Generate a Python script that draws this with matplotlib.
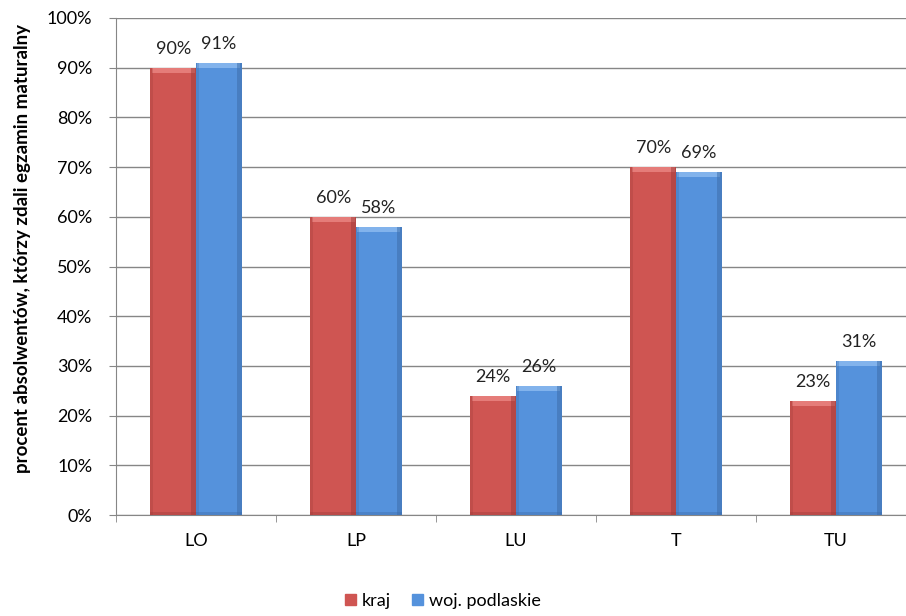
import matplotlib
matplotlib.use("Agg")
import matplotlib.pyplot as plt
import matplotlib.ticker as mticker
import numpy as np

plt.rcParams["font.family"] = ["Lato", "DejaVu Sans"]

categories = ["LO", "LP", "LU", "T", "TU"]
kraj = [90, 60, 24, 70, 23]
podlaskie = [91, 58, 26, 69, 31]
series_names = ["kraj", "woj. podlaskie"]

RED = "#CF5552"
BLUE = "#5592DC"
RED_LIGHT = "#E57C79"
BLUE_LIGHT = "#82B3EC"
RED_DARK = "#9E3B39"
BLUE_DARK = "#3C6CA8"

fig = plt.figure(figsize=(9.06, 6.16), dpi=100)
ax = fig.add_axes([116 / 906, 1 - 515 / 616, 1 - 116 / 906, (515 - 18) / 616])

x = np.arange(len(categories))
w = 0.285


def bevel_bars(xs, vals, face, light, dark):
    # flat face plus a light top strip and darker edges, like the old office look
    ax.bar(xs, vals, w, color=face, zorder=3)
    ax.bar(xs, [1.0] * len(vals), w * 0.94, bottom=[v - 1.0 for v in vals],
           color=light, zorder=4)
    ax.bar(xs + w * 0.45, vals, w * 0.10, color=dark, alpha=0.5, zorder=4)
    ax.bar(xs - w * 0.47, vals, w * 0.06, color=dark, alpha=0.3, zorder=4)
    ax.bar(xs, [0.6] * len(vals), w, color=dark, alpha=0.4, zorder=4)


bevel_bars(x - w / 2, kraj, RED, RED_LIGHT, RED_DARK)
bevel_bars(x + w / 2, podlaskie, BLUE, BLUE_LIGHT, BLUE_DARK)

for xs, vals in ((x - w / 2, kraj), (x + w / 2, podlaskie)):
    for xi, v in zip(xs, vals):
        ax.text(xi, v + 2.2, f"{v}%", ha="center", va="bottom", fontsize=13,
                color="#222222")

ax.yaxis.set_major_locator(mticker.MultipleLocator(10))
ax.yaxis.set_major_formatter(mticker.FuncFormatter(lambda v, p: f"{v:.0f}%"))
ax.grid(axis="y", color="#868686", linewidth=1.0, zorder=0)
ax.set_axisbelow(True)

ax.set_xticks(x)
ax.set_xticklabels(categories)
ax.set_xticks(np.arange(-0.5, 4.6, 1), minor=True)
ax.tick_params(axis="x", which="major", length=0, pad=13, labelsize=13)
ax.tick_params(axis="x", which="minor", length=5, color="#868686")
ax.tick_params(axis="y", length=5, color="#868686", labelsize=13, pad=12)

# limits after ticks, otherwise the minor ticks stretch the view
ax.set_ylim(0, 100)
ax.set_xlim(-0.5, 4.5 - 10 / 160)

for side in ("top", "right"):
    ax.spines[side].set_visible(False)
ax.spines["left"].set_color("#868686")
ax.spines["bottom"].set_color("#868686")

ax.set_ylabel("procent absolwentów, którzy zdali egzamin maturalny",
              fontsize=13.5, fontweight="bold")
ax.yaxis.set_label_coords(-0.108, 0.537)

handles = [plt.Rectangle((0, 0), 1, 1, color=RED), plt.Rectangle((0, 0), 1, 1, color=BLUE)]
fig.legend(handles, series_names, loc="center", bbox_to_anchor=(443 / 906, 1 - 601 / 616),
           ncol=2, frameon=False, fontsize=13, handlelength=0.6, handleheight=0.6,
           handletextpad=0.3, columnspacing=1.2)

fig.savefig("out.png", dpi=100)
